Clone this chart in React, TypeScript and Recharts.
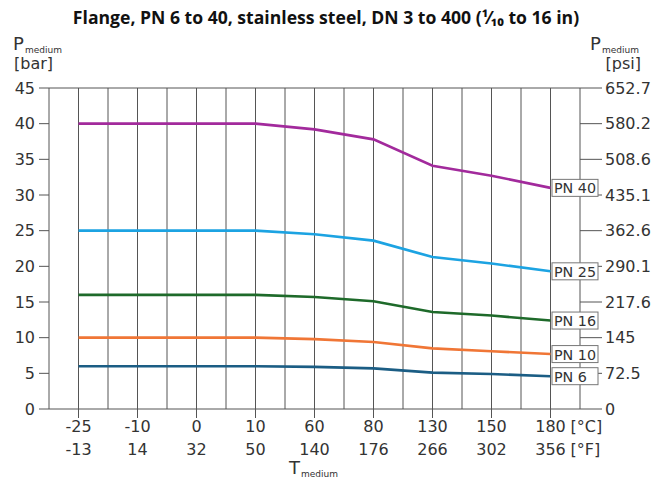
import { CartesianGrid, Line, LineChart, XAxis, YAxis } from "recharts";

const tempsC = ["-25", "-10", "0", "10", "60", "80", "130", "150", "180"];
const tempsF = ["-13", "14", "32", "50", "140", "176", "266", "302", "356"];

const pn40 = [40, 40, 40, 40, 39.2, 37.8, 34.1, 32.7, 31.0];
const pn25 = [25, 25, 25, 25, 24.5, 23.6, 21.3, 20.4, 19.3];
const pn16 = [16, 16, 16, 16, 15.7, 15.1, 13.6, 13.1, 12.4];
const pn10 = [10, 10, 10, 10, 9.8, 9.4, 8.5, 8.1, 7.7];
const pn6 = [6, 6, 6, 6, 5.9, 5.7, 5.1, 4.9, 4.6];

const barTicks = [0, 5, 10, 15, 20, 25, 30, 35, 40, 45];
const psiLabels = ["0", "72.5", "145", "217.6", "290.1", "362.6", "435.1", "508.6", "580.2", "652.7"];

const series = [
  { key: "pn40", name: "PN 40", color: "#a22a9c" },
  { key: "pn25", name: "PN 25", color: "#1ca3e2" },
  { key: "pn16", name: "PN 16", color: "#1e6a2a" },
  { key: "pn10", name: "PN 10", color: "#f07636" },
  { key: "pn6", name: "PN 6", color: "#1b5d84" },
];

const data = tempsC.map((c, i) => ({
  i,
  c,
  f: tempsF[i],
  pn40: pn40[i],
  pn25: pn25[i],
  pn16: pn16[i],
  pn10: pn10[i],
  pn6: pn6[i],
}));

// grid every half category, labels only on whole ones
const xTicks: number[] = [];
for (let k = -1; k <= tempsC.length * 2 - 1; k++) xTicks.push(k / 2);

const FONT = "'DejaVu Sans', sans-serif";
const TEXT = "#333";
const GRID = "#555";

function TempTick(props: any) {
  const { x, y, payload } = props;
  const v = payload?.value;
  if (!Number.isInteger(v)) return null;
  const last = v === tempsC.length - 1;
  return (
    <g>
      <line x1={x} x2={x} y1={y} y2={y + 9} stroke={GRID} strokeWidth={1} />
      <text x={x} y={y + 23} textAnchor="middle" fontFamily={FONT} fontSize={16} fill={TEXT}>
        {tempsC[v]}
      </text>
      <text x={x} y={y + 46} textAnchor="middle" fontFamily={FONT} fontSize={16} fill={TEXT}>
        {tempsF[v]}
      </text>
      {last ? (
        <>
          <text x={x + 20} y={y + 23} fontFamily={FONT} fontSize={16} fill={TEXT}>
            [°C]
          </text>
          <text x={x + 20} y={y + 46} fontFamily={FONT} fontSize={16} fill={TEXT}>
            [°F]
          </text>
        </>
      ) : null}
    </g>
  );
}

function endLabel(name: string) {
  return (props: any) => {
    const { x, y, index } = props;
    if (index !== tempsC.length - 1) return <g />;
    return (
      <g>
        <rect x={x + 1.5} y={y - 8.5} width={46} height={17} fill="#fff" stroke="#777" strokeWidth={1} />
        <text x={x + 3.5} y={y + 5.5} fontFamily={FONT} fontSize={14.3} fill={TEXT}>
          {name}
        </text>
      </g>
    );
  };
}

export default function App() {
  return (
    <div style={{ position: "relative", width: 651, height: 478, background: "#fff" }}>
      <style>{`body{margin:0}`}</style>
      <LineChart width={651} height={478} data={data} margin={{ top: 88, right: 0, left: 0, bottom: 0 }}>
        <CartesianGrid stroke={GRID} strokeWidth={1} />
        <XAxis
          type="number"
          dataKey="i"
          domain={[-0.5, tempsC.length - 0.5]}
          ticks={xTicks}
          interval={0}
          height={69}
          axisLine={false}
          tickLine={false}
          tickSize={0}
          tickMargin={0}
          tick={<TempTick />}
        />
        <YAxis
          yAxisId="bar"
          domain={[0, 45]}
          ticks={barTicks}
          width={49}
          axisLine={false}
          tickSize={10}
          tickMargin={4}
          tickLine={{ stroke: GRID }}
          tick={{ fontFamily: FONT, fontSize: 16, fill: TEXT }}
        />
        <YAxis
          yAxisId="psi"
          orientation="right"
          domain={[0, 45]}
          ticks={barTicks}
          width={71}
          axisLine={false}
          tickSize={22}
          tickMargin={3}
          tickLine={{ stroke: GRID }}
          tickFormatter={(v: number) => psiLabels[barTicks.indexOf(v)]}
          tick={{ fontFamily: FONT, fontSize: 16, fill: TEXT, textAnchor: "start" }}
        />
        {series.map((s, idx) => (
          <Line
            key={s.key}
            yAxisId={idx === series.length - 1 ? "psi" : "bar"}
            type="linear"
            dataKey={s.key}
            stroke={s.color}
            strokeWidth={2.6}
            dot={false}
            isAnimationActive={false}
            label={endLabel(s.name)}
          />
        ))}
      </LineChart>
      <svg
        width={651}
        height={478}
        style={{ position: "absolute", left: 0, top: 0, pointerEvents: "none" }}
      >
        <text x={326} y={24} textAnchor="middle" fontFamily="'Open Sans', sans-serif" fontWeight={700} fontSize={17.6} fill="#111">
          Flange, PN 6 to 40, stainless steel, DN 3 to 400 (¹⁄₁₀ to 16 in)
        </text>
        <text x={13} y={50} fontFamily={FONT} fontSize={18} fill={TEXT}>P</text>
        <text x={25} y={53} fontFamily={FONT} fontSize={9} fill={TEXT}>medium</text>
        <text x={14} y={69} fontFamily={FONT} fontSize={16} fill={TEXT}>[bar]</text>
        <text x={590} y={50} fontFamily={FONT} fontSize={18} fill={TEXT}>P</text>
        <text x={602} y={53} fontFamily={FONT} fontSize={9} fill={TEXT}>medium</text>
        <text x={641} y={69} textAnchor="end" fontFamily={FONT} fontSize={16} fill={TEXT}>[psi]</text>
        <text x={289} y={474} fontFamily={FONT} fontSize={18} fill={TEXT}>T</text>
        <text x={301} y={477} fontFamily={FONT} fontSize={9} fill={TEXT}>medium</text>
      </svg>
    </div>
  );
}
